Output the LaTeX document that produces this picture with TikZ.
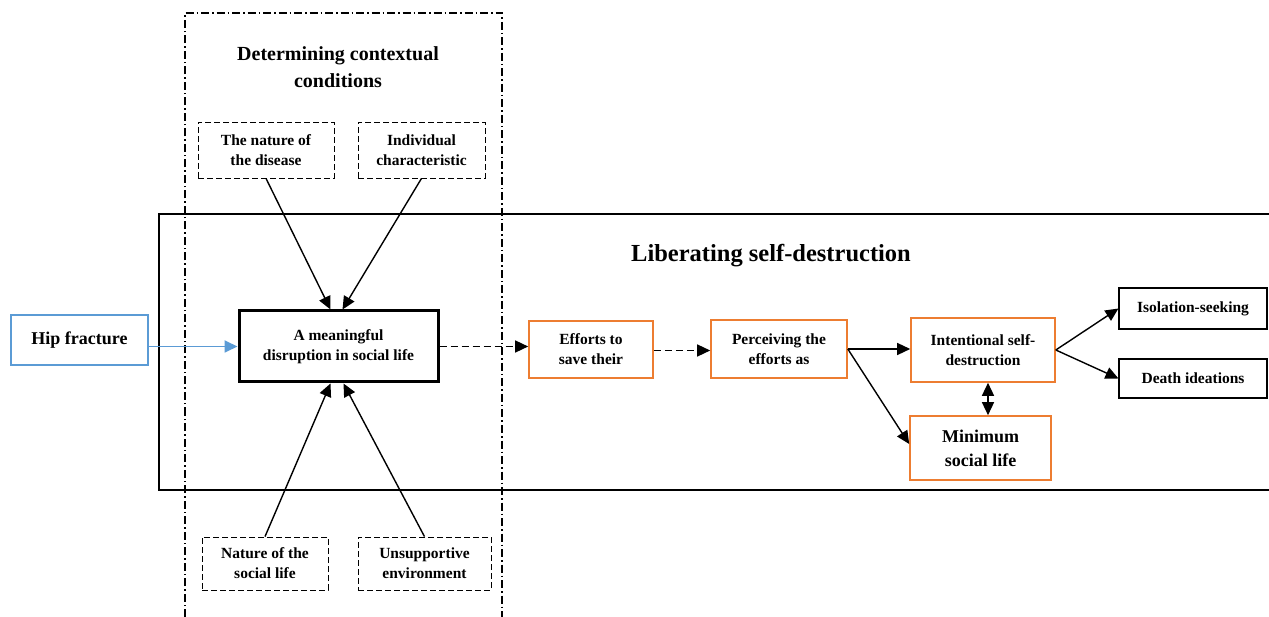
\documentclass[tikz,border=0pt]{standalone}
\usepackage{fontspec}
\setmainfont{Liberation Serif}
\usetikzlibrary{arrows.meta}
\definecolor{boxorange}{RGB}{237,125,49}
\definecolor{boxblue}{RGB}{91,155,213}
\begin{document}
\begin{tikzpicture}[x=1pt,y=-1pt,
    every node/.style={font=\bfseries, align=center, inner sep=0pt},
    smalltext/.style={font=\bfseries\fontsize{15.5}{20}\selectfont},
    condbox/.style={smalltext, draw, thick, dash pattern=on 6pt off 3pt},
    stepbox/.style={smalltext, draw=boxorange, line width=1.6pt},
    outbox/.style={smalltext, draw, line width=1.1pt},
    headed/.style={-{Triangle[length=13pt,width=12pt]}},
    conn/.style={headed, line width=1.4pt},
    dashconn/.style={conn, dash pattern=on 7pt off 4pt}]
    \useasboundingbox (0,0) rectangle (1269,617);

    % Contextual conditions frame (open at the bottom)
    \draw[line width=1.2pt, dash pattern=on 8pt off 3pt on 1.5pt off 3pt]
        (185,617) -- (185,13) -- (502,13) -- (502,617);
    \node[font=\bfseries\fontsize{20}{27}\selectfont] (condtitle) at (338,67) {Determining contextual\\conditions};

    % Liberating self-destruction frame
    \draw[line width=1.8pt] (1269,214) -- (159,214) -- (159,490) -- (1269,490);
    \node[font=\bfseries\fontsize{24.5}{29}\selectfont] (libtitle) at (771,256) {Liberating self-destruction};

    % Conditions
    \node[condbox, minimum width=136pt, minimum height=56pt] (disease) at (266,150) {The nature of\\the disease};
    \node[condbox, minimum width=127pt, minimum height=56pt] (indiv) at (421.5,150) {Individual\\characteristic};
    \node[condbox, minimum width=126pt, minimum height=53pt] (social) at (265,563.5) {Nature of the\\social life};
    \node[condbox, minimum width=133pt, minimum height=53pt] (unsupp) at (424.5,563.5) {Unsupportive\\environment};

    % Hip fracture and disruption
    \node[draw=boxblue, line width=1.8pt, minimum width=137pt, minimum height=50pt,
        font=\bfseries\fontsize{18}{22}\selectfont] (hip) at (79.5,340) {Hip fracture};
    \node[smalltext, draw, line width=3pt, minimum width=199pt, minimum height=71pt] (disrupt) at (338.5,346.5)
        {A meaningful\\disruption in social life};

    % Process steps
    \node[stepbox, minimum width=124pt, minimum height=57pt] (efforts) at (591,349.5) {Efforts to\\save their};
    \node[stepbox, minimum width=136pt, minimum height=58pt] (perceive) at (779,349) {Perceiving the\\efforts as};
    \node[stepbox, minimum width=144pt, minimum height=64pt] (intent) at (983,350) {Intentional self-\\destruction};
    \node[stepbox, minimum width=141pt, minimum height=64pt,
        font=\bfseries\fontsize{18}{24}\selectfont] (minimum) at (980.5,448) {Minimum\\social life};

    % Outcomes
    \node[outbox, minimum width=148pt, minimum height=41pt] (isolation) at (1193,308.5) {Isolation-seeking};
    \node[outbox, minimum width=148pt, minimum height=39pt] (death) at (1193,378.5) {Death ideations};

    % Arrows into the disruption
    \draw[conn] (disease.south) -- ([xshift=-8pt]disrupt.north);
    \draw[conn] (indiv.south) -- ([xshift=4pt]disrupt.north);
    \draw[conn] (social.north) -- ([xshift=-8pt]disrupt.south);
    \draw[conn] (unsupp.north) -- ([xshift=5pt]disrupt.south);
    \draw[headed, boxblue, line width=1.8pt] (hip.east |- disrupt.west) -- (disrupt.west);

    % Chain of steps
    \draw[dashconn] (disrupt.east) -- (disrupt.east -| efforts.west);
    \draw[dashconn] ([yshift=-1pt]efforts.east) -- ([yshift=-1pt]efforts.east -| perceive.west);
    \draw[conn] (perceive.east) -- (perceive.east -| intent.west);
    \draw[conn] (perceive.east) -- ([yshift=4pt]minimum.west);
    \draw[line width=1.4pt, {Triangle[length=13pt,width=12pt]}-{Triangle[length=13pt,width=12pt]}]
        ([xshift=5pt]intent.south) -- ([xshift=5pt]intent.south |- minimum.north);
    \draw[conn] (intent.east) -- (isolation.west);
    \draw[conn] (intent.east) -- (death.west);
\end{tikzpicture}
\end{document}
